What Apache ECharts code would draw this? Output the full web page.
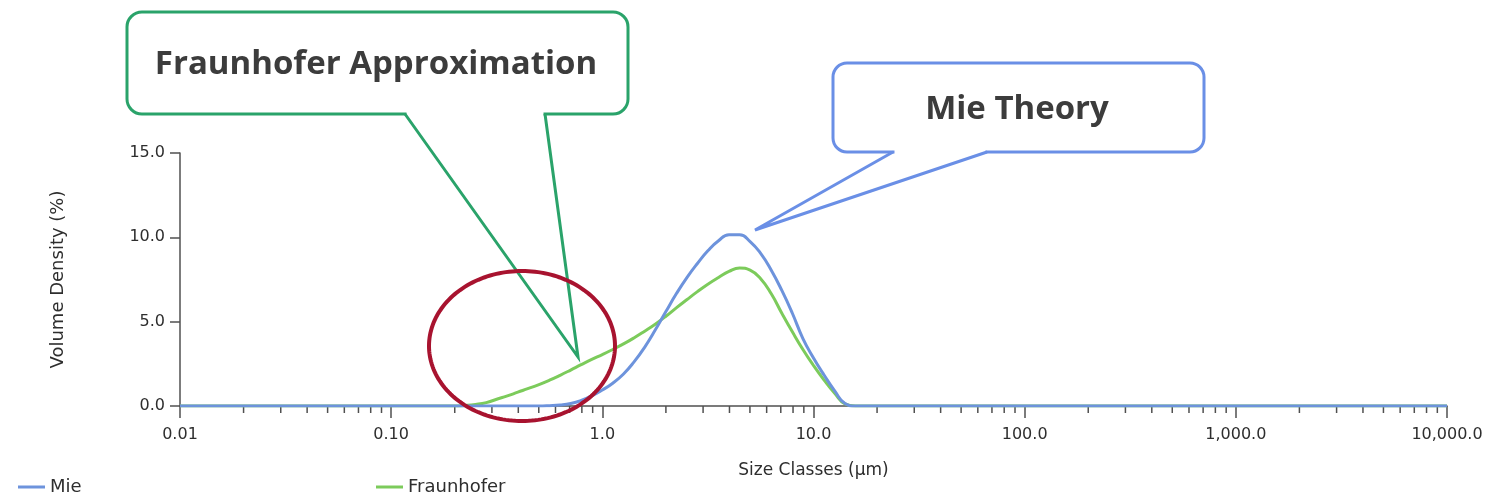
<!DOCTYPE html>
<html>
<head>
<meta charset="utf-8">
<title>Volume Density – Mie vs Fraunhofer</title>
<script src="https://cdn.jsdelivr.net/npm/echarts@6/dist/echarts.min.js"></script>
<style>
  html, body { margin: 0; padding: 0; background: #ffffff; }
  #chart { width: 1490px; height: 501px; }
</style>
</head>
<body>
<div id="chart"></div>
<script>
// Particle size classes (µm)
const sizeClasses = [
  0.01, 0.2, 0.224, 0.251, 0.282, 0.316, 0.355, 0.398, 0.447, 0.501, 0.562,
  0.631, 0.708, 0.794, 0.891, 1.0, 1.12, 1.26, 1.41, 1.58, 1.78, 2.0, 2.24,
  2.51, 2.82, 3.16, 3.55, 3.98, 4.47, 5.01, 5.62, 6.31, 7.08, 7.94, 8.91,
  10.0, 11.2, 12.6, 14.1, 15.8, 10000
];

// Volume density (%) per size class – Mie theory
const mieValues = [
  0, 0, 0, 0, 0, 0, 0, 0, 0, 0, 0.02,
  0.06, 0.15, 0.33, 0.6, 0.95, 1.35, 1.9, 2.6, 3.45, 4.5, 5.6, 6.65,
  7.6, 8.45, 9.2, 9.8, 10.15, 10.15, 9.75, 9.05, 8.05, 6.85, 5.5, 4.0,
  2.85, 1.85, 0.9, 0.15, 0, 0
];

// Volume density (%) per size class – Fraunhofer approximation
const fraunhoferValues = [
  0, 0, 0.03, 0.09, 0.2, 0.4, 0.6, 0.82, 1.04, 1.27, 1.53,
  1.82, 2.13, 2.45, 2.76, 3.05, 3.35, 3.68, 4.03, 4.42, 4.85, 5.32, 5.82,
  6.3, 6.78, 7.22, 7.62, 7.98, 8.18, 8.05, 7.55, 6.65, 5.5, 4.4, 3.35,
  2.4, 1.55, 0.75, 0.12, 0, 0
];

// Axis labels
const xTickLabels = ['0.01', '0.10', '1.0', '10.0', '100.0', '1,000.0', '10,000.0'];
const yTickLabels = ['0.0', '5.0', '10.0', '15.0'];

// Minor tick positions on the logarithmic size axis
const decades = [0.01, 0.1, 1, 10, 100, 1000];
const minorSteps = [2, 3, 4, 5, 6, 7, 8, 9];
const minorTicks = [];
decades.forEach(d => minorSteps.forEach(m => minorTicks.push([+(d * m).toPrecision(3), 0])));

const seriesNames = ['Mie', 'Fraunhofer'];
const colors = { mie: '#6d93dc', fraunhofer: '#7ccb5b' };
const axisColor = '#505050';
const textColor = '#2e2e2e';
const font = 'DejaVu Sans';

const pair = (xs, ys) => xs.map((x, i) => [x, ys[i]]);

// Outline points of the highlight ring
function ringPoints(cx, cy, rx, ry) {
  const pts = [];
  for (let i = 0; i < 180; i++) {
    const a = (i / 180) * Math.PI * 2;
    pts.push([cx + rx * Math.cos(a), cy + ry * Math.sin(a)]);
  }
  return pts;
}

// A rounded box with a wedge pointer hanging from its lower edge
function callout(box, wedge, stroke) {
  return [
    {
      type: 'rect',
      shape: { x: box.x, y: box.y, width: box.w, height: box.h, r: box.r },
      style: { fill: '#ffffff', stroke: stroke, lineWidth: 3 },
      z: 10
    },
    {
      // open the lower edge where the wedge joins
      type: 'line',
      shape: { x1: wedge.a + 1.5, y1: box.y + box.h, x2: wedge.b - 1.5, y2: box.y + box.h },
      style: { stroke: '#ffffff', lineWidth: 5 },
      z: 11
    },
    {
      type: 'polyline',
      shape: { points: [[wedge.a, box.y + box.h], wedge.tip, [wedge.b, box.y + box.h]] },
      style: { fill: null, stroke: stroke, lineWidth: 3, lineJoin: 'miter' },
      z: 12
    }
  ];
}

const chart = echarts.init(document.getElementById('chart'), null, { renderer: 'canvas' });

const legendBase = {
  orient: 'horizontal',
  top: 478,
  padding: 0,
  icon: 'rect',
  itemWidth: 27,
  itemHeight: 3,
  itemGap: 6,
  textStyle: { fontFamily: font, fontSize: 18, color: textColor },
  selectedMode: false
};

chart.setOption({
  animation: false,
  backgroundColor: '#ffffff',
  grid: { left: 180, right: 43, top: 153, bottom: 95, containLabel: false },
  legend: [
    Object.assign({}, legendBase, { left: 18, data: [seriesNames[0]] }),
    Object.assign({}, legendBase, { left: 376, data: [seriesNames[1]] })
  ],
  xAxis: {
    type: 'log',
    logBase: 10,
    min: 0.01,
    max: 10000,
    splitNumber: 6,
    name: 'Size Classes (µm)',
    nameLocation: 'middle',
    nameGap: 56,
    nameTextStyle: { fontFamily: font, fontSize: 17, color: textColor },
    axisLine: { show: true, lineStyle: { color: axisColor, width: 1.5 } },
    axisTick: { show: true, length: 12, lineStyle: { color: axisColor, width: 1.5 } },
    axisLabel: {
      margin: 21,
      fontFamily: font,
      fontSize: 16,
      color: textColor,
      showMinLabel: true,
      showMaxLabel: true,
      formatter: v => xTickLabels[Math.round(Math.log10(v)) + 2]
    },
    splitLine: { show: false }
  },
  yAxis: {
    type: 'value',
    min: 0,
    max: 15,
    interval: 5,
    name: 'Volume Density (%)',
    nameLocation: 'middle',
    nameRotate: 90,
    nameGap: 113,
    nameTextStyle: { fontFamily: font, fontSize: 18, color: textColor },
    axisLine: { show: true, lineStyle: { color: axisColor, width: 1.5 } },
    axisTick: { show: true, length: 10, lineStyle: { color: axisColor, width: 1.5 } },
    axisLabel: {
      margin: 15,
      fontFamily: font,
      fontSize: 16,
      color: textColor,
      formatter: v => yTickLabels[Math.round(v / 5)]
    },
    splitLine: { show: false }
  },
  series: [
    {
      name: seriesNames[0],
      type: 'line',
      data: pair(sizeClasses, mieValues),
      smooth: 0.5,
      symbol: 'none',
      itemStyle: { color: colors.mie },
      lineStyle: { color: colors.mie, width: 3 },
      z: 3
    },
    {
      name: seriesNames[1],
      type: 'line',
      data: pair(sizeClasses, fraunhoferValues),
      smooth: 0.5,
      symbol: 'none',
      itemStyle: { color: colors.fraunhofer },
      lineStyle: { color: colors.fraunhofer, width: 3 },
      z: 2
    },
    {
      // short minor ticks under the log axis
      name: 'minorTicks',
      type: 'custom',
      silent: true,
      clip: false,
      data: minorTicks,
      renderItem: (params, api) => {
        const p = api.coord([api.value(0), 0]);
        return {
          type: 'line',
          shape: { x1: p[0], y1: p[1], x2: p[0], y2: p[1] + 7 },
          style: { stroke: axisColor, lineWidth: 1.5 }
        };
      },
      z: 1
    }
  ],
  graphic: [].concat(
    callout({ x: 127, y: 12, w: 501, h: 102, r: 15 }, { a: 405, b: 545, tip: [578, 357] }, '#2aa36a'),
    [{
      type: 'text',
      style: {
        text: 'Fraunhofer Approximation',
        x: 376, y: 65,
        textAlign: 'center', textVerticalAlign: 'middle',
        fontFamily: 'Open Sans', fontWeight: 'bold', fontSize: 33, fill: '#3c3c3c'
      },
      z: 13
    }],
    callout({ x: 833, y: 63, w: 371, h: 89, r: 14 }, { a: 893, b: 987, tip: [755, 230] }, '#6a8fe6'),
    [{
      type: 'text',
      style: {
        text: 'Mie Theory',
        x: 1017, y: 110,
        textAlign: 'center', textVerticalAlign: 'middle',
        fontFamily: 'Open Sans', fontWeight: 'bold', fontSize: 33, fill: '#3c3c3c'
      },
      z: 13
    },
    {
      // highlight ring around the fine-particle region
      type: 'polygon',
      shape: { points: ringPoints(522, 346, 93, 75) },
      style: { fill: null, stroke: '#a8132f', lineWidth: 4 },
      z: 14
    }]
  )
});
</script>
</body>
</html>
